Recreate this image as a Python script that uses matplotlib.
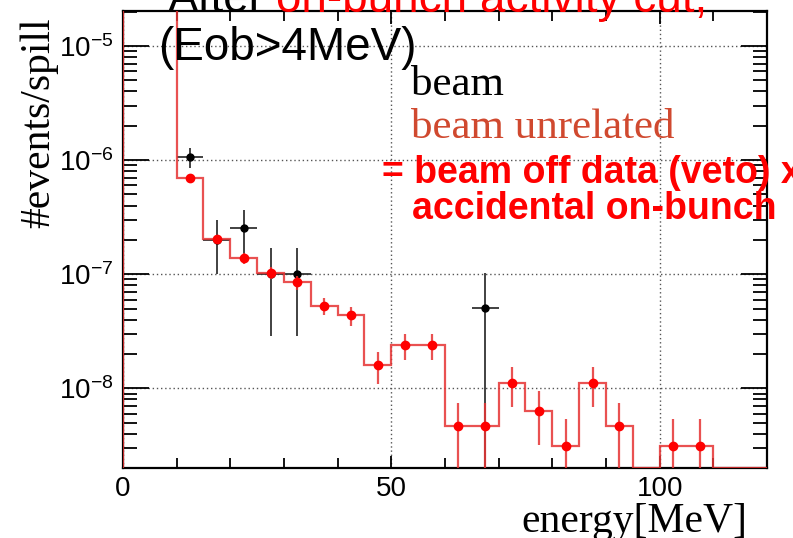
import numpy as np
import matplotlib.pyplot as plt
from matplotlib.ticker import MultipleLocator, LogLocator, NullFormatter

plt.rcParams['mathtext.fontset'] = 'custom'
plt.rcParams['mathtext.rm'] = 'Liberation Sans'
plt.rcParams['mathtext.it'] = 'Liberation Sans:italic'
plt.rcParams['mathtext.bf'] = 'Liberation Sans:bold'

# 5 MeV bins from 0 to 120 MeV
edges = np.arange(0, 125, 5)
centers = edges[:-1] + 2.5

# beam unrelated (beam off data x accidental on-bunch), events/spill
unrelated = np.array([
    1e-4, 1e-4, 7.0e-7, 2.03e-7, 1.39e-7, 1.03e-7, 8.5e-8, 5.3e-8,
    4.36e-8, 1.6e-8, 2.38e-8, 2.38e-8, 4.7e-9, 4.7e-9, 1.11e-8, 6.3e-9,
    3.14e-9, 1.11e-8, 4.7e-9, 0.0, 3.14e-9, 3.14e-9, 0.0, 0.0])
unrelated_err = np.array([
    0.0, 0.0, 3.3e-8, 1.8e-8, 1.5e-8, 1.27e-8, 1.16e-8, 9.0e-9,
    8.2e-9, 5.0e-9, 6.1e-9, 6.1e-9, 2.7e-9, 2.7e-9, 4.2e-9, 3.1e-9,
    2.2e-9, 4.2e-9, 2.7e-9, 0.0, 2.2e-9, 2.2e-9, 0.0, 0.0])

# beam data points
beam_e = [12.5, 17.5, 22.5, 27.5, 32.5, 67.5]
beam = [1.07e-6, 2.0e-7, 2.55e-7, 1.0e-7, 1.0e-7, 5.1e-8]
beam_err = [2.2e-7, 1.0e-7, 1.1e-7, 7.1e-8, 7.1e-8, 5.1e-8]

ymin, ymax = 2e-9, 2.03e-5
red_line = (0.9, 0.2, 0.2, 0.85)

fig = plt.figure(figsize=(7.93, 5.38), dpi=100)
ax = fig.add_axes([0.1551, 0.1301, 0.8121, 0.8494])
ax.set_yscale('log')

ax.errorbar(beam_e, beam, xerr=2.5, yerr=beam_err, fmt='o', color='black',
            ms=5, ecolor='#333333', elinewidth=1.3, capsize=0, zorder=3)
# empty bins run along the bottom of the frame
ax.stairs(np.maximum(unrelated, ymin), edges, color=red_line, lw=1.6,
          zorder=4)
nz = unrelated > 0
ax.errorbar(centers[nz], unrelated[nz], yerr=unrelated_err[nz], fmt='o',
            color='red', ms=6, ecolor=red_line, elinewidth=1.6, capsize=0,
            zorder=5)

ax.set_xlim(0, 120)
ax.set_ylim(ymin, ymax)

ax.xaxis.set_major_locator(MultipleLocator(50))
ax.xaxis.set_minor_locator(MultipleLocator(10))
ax.yaxis.set_major_locator(LogLocator(base=10))
ax.yaxis.set_minor_locator(LogLocator(base=10, subs=np.arange(2, 10)))
ax.yaxis.set_minor_formatter(NullFormatter())

ax.tick_params(which='both', direction='in', top=True, right=True,
               width=1.3, labelsize=20)
ax.tick_params(axis='y', which='major', length=19, pad=7)
ax.tick_params(axis='y', which='minor', length=10)
ax.tick_params(axis='x', which='major', length=9, pad=6)
ax.tick_params(axis='x', which='minor', length=7)
for lab in ax.get_xticklabels() + ax.get_yticklabels():
    lab.set_family('Liberation Sans')

for s in ax.spines.values():
    s.set_linewidth(1.6)

ax.grid(which='major', color='#555555', linestyle=(0, (1, 2)), linewidth=1.0)

serif = 'Liberation Serif'
ax.set_ylabel('#events/spill', family=serif, fontsize=30)
ax.yaxis.set_label_coords(-0.100, 0.755)
fig.text(0.943, 0.011, 'energy[MeV]', family=serif, fontsize=30,
         ha='right', va='baseline')

# headline above the frame
fig.text(168 / 793, 1 - 12 / 538, 'After', family='Liberation Sans',
         fontsize=33, color='black', va='baseline')
fig.text(276 / 793, 1 - 12 / 538, 'on-bunch activity cut,',
         family='Liberation Sans', fontsize=33, color='red', va='baseline')
fig.text(158 / 793, 1 - 60 / 538, '(Eob>4MeV)', family='Liberation Sans',
         fontsize=33, color='black', va='baseline')

fig.text(411 / 793, 1 - 95 / 538, 'beam', family=serif, fontsize=31,
         color='black', va='baseline')
fig.text(411 / 793, 1 - 138 / 538, 'beam unrelated', family=serif,
         fontsize=31, color='#d0492f', va='baseline')
fig.text(382 / 793, 1 - 183 / 538, '= beam off data (veto) x',
         family='Liberation Sans', fontweight='bold', fontsize=27,
         color='red', va='baseline')
fig.text(412 / 793, 1 - 219 / 538, 'accidental on-bunch',
         family='Liberation Sans', fontweight='bold', fontsize=27,
         color='red', va='baseline')

fig.savefig('out.png', dpi=100)
